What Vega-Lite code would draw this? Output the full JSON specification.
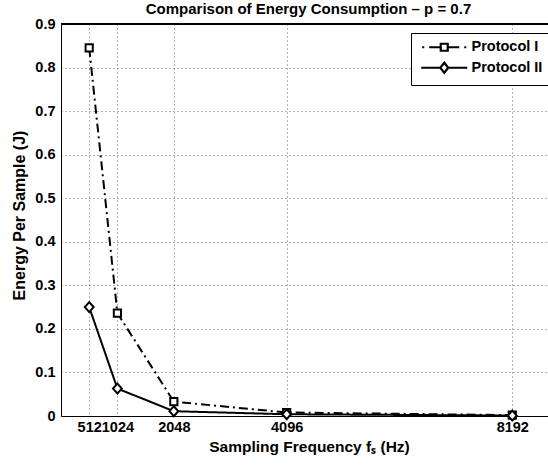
{
  "$schema": "https://vega.github.io/schema/vega-lite/v6.json",
  "autosize": {"type": "none"},
  "padding": {"left": 61, "top": 24, "right": 0, "bottom": 49},
  "width": 487,
  "height": 392,
  "title": {
    "text": "Comparison of Energy Consumption – p = 0.7",
    "fontSize": 15,
    "fontWeight": "bold",
    "font": "Liberation Sans",
    "color": "black",
    "anchor": "middle",
    "dx": 4,
    "offset": -1
  },
  "config": {
    "font": "Liberation Sans",
    "view": {"stroke": null},
    "axis": {
      "labelFont": "Liberation Sans",
      "labelFontSize": 14.5,
      "labelFontWeight": "bold",
      "labelColor": "black",
      "titleFont": "Liberation Sans",
      "titleFontSize": 15.5,
      "titleFontWeight": "bold",
      "titleColor": "black",
      "domainColor": "black",
      "domainWidth": 1,
      "ticks": false,
      "grid": true,
      "gridColor": "#444",
      "gridDash": [1, 3],
      "gridWidth": 1,
      "gridOpacity": 0.8
    }
  },
  "data": {
    "values": [
      {"f": 512, "energy": 0.845, "protocol": "Protocol I"},
      {"f": 1024, "energy": 0.236, "protocol": "Protocol I"},
      {"f": 2048, "energy": 0.033, "protocol": "Protocol I"},
      {"f": 4096, "energy": 0.008, "protocol": "Protocol I"},
      {"f": 8192, "energy": 0.002, "protocol": "Protocol I"},
      {"f": 512, "energy": 0.250, "protocol": "Protocol II"},
      {"f": 1024, "energy": 0.063, "protocol": "Protocol II"},
      {"f": 2048, "energy": 0.011, "protocol": "Protocol II"},
      {"f": 4096, "energy": 0.004, "protocol": "Protocol II"},
      {"f": 8192, "energy": 0.001, "protocol": "Protocol II"}
    ]
  },
  "resolve": {"scale": {"shape": "independent"}, "legend": {"shape": "independent"}},
  "layer": [
    {
      "mark": {"type": "rule", "color": "black", "strokeWidth": 1},
      "encoding": {"y": {"datum": 0.9, "type": "quantitative"}}
    },
    {
      "mark": {"type": "line", "color": "black", "strokeWidth": 2},
      "encoding": {
        "x": {
          "field": "f", "type": "quantitative",
          "scale": {"domain": [0, 8840], "nice": false, "zero": false},
          "axis": {
            "values": [512, 1024, 2048, 4096, 8192],
            "format": "d",
            "labelOverlap": false,
            "labelBound": false,
            "labelFlush": false,
            "labelPadding": 4,
            "title": "Sampling Frequency fₛ (Hz)",
            "titlePadding": 6,
            "titleX": 248,
            "titleAnchor": "middle"
          }
        },
        "y": {
          "field": "energy", "type": "quantitative",
          "scale": {"domain": [0, 0.9], "nice": false},
          "axis": {
            "values": [0, 0.1, 0.2, 0.3, 0.4, 0.5, 0.6, 0.7, 0.8, 0.9],
            "labelExpr": "datum.value == 0 ? '0' : format(datum.value, '.1f')",
            "labelPadding": 6,
            "title": "Energy Per Sample (J)",
            "titleFontSize": 16,
            "titleY": 191,
            "titleAnchor": "middle",
            "titlePadding": 7
          }
        },
        "detail": {"field": "protocol", "type": "nominal"},
        "strokeDash": {
          "condition": {"test": "datum.protocol === 'Protocol I'", "value": [9, 4, 2, 4]},
          "value": [1, 0]
        }
      }
    },
    {
      "mark": {"type": "point", "filled": true, "fill": "white", "stroke": "black", "strokeWidth": 2, "opacity": 1, "size": 81},
      "encoding": {
        "x": {"field": "f", "type": "quantitative"},
        "y": {"field": "energy", "type": "quantitative"},
        "shape": {
          "field": "protocol", "type": "nominal",
          "scale": {"domain": ["Protocol I", "Protocol II"], "range": ["M-0.8,-0.8H0.8V0.8H-0.8Z", "M0,-1.1L0.98,0L0,1.1L-0.98,0Z"]},
          "legend": null
        }
      }
    },
    {
      "transform": [{"filter": "datum.f < 0"}],
      "mark": {"type": "point", "filled": false, "stroke": "black", "strokeWidth": 2, "opacity": 1},
      "encoding": {
        "x": {"field": "f", "type": "quantitative"},
        "y": {"field": "energy", "type": "quantitative"},
        "shape": {
          "field": "protocol", "type": "nominal",
          "scale": {
            "domain": ["Protocol I", "Protocol II"],
            "range": [
              "M-4.4,0H-4M-3.0,0H-0.7M0.7,0H3.0M4,0H4.4M-0.7,-0.7H0.7V0.7H-0.7Z",
              "M-4.6,0H-0.8M0.8,0H4.6M0,-1L0.8,0L0,1L-0.8,0Z"
            ]
          },
          "legend": {
            "title": null,
            "orient": "none",
            "legendX": 350,
            "legendY": 9,
            "padding": 7,
            "strokeColor": "black",
            "fillColor": "white",
            "labelFont": "Liberation Sans",
            "labelFontSize": 14.5,
            "labelFontWeight": "bold",
            "labelColor": "black",
            "symbolSize": 100,
            "symbolStrokeWidth": 2.2,
            "symbolStrokeColor": "black",
            "symbolFillColor": "transparent",
            "symbolOpacity": 1,
            "symbolOffset": 19,
            "labelOffset": 20,
            "rowPadding": 1.5
          }
        }
      }
    }
  ]
}
